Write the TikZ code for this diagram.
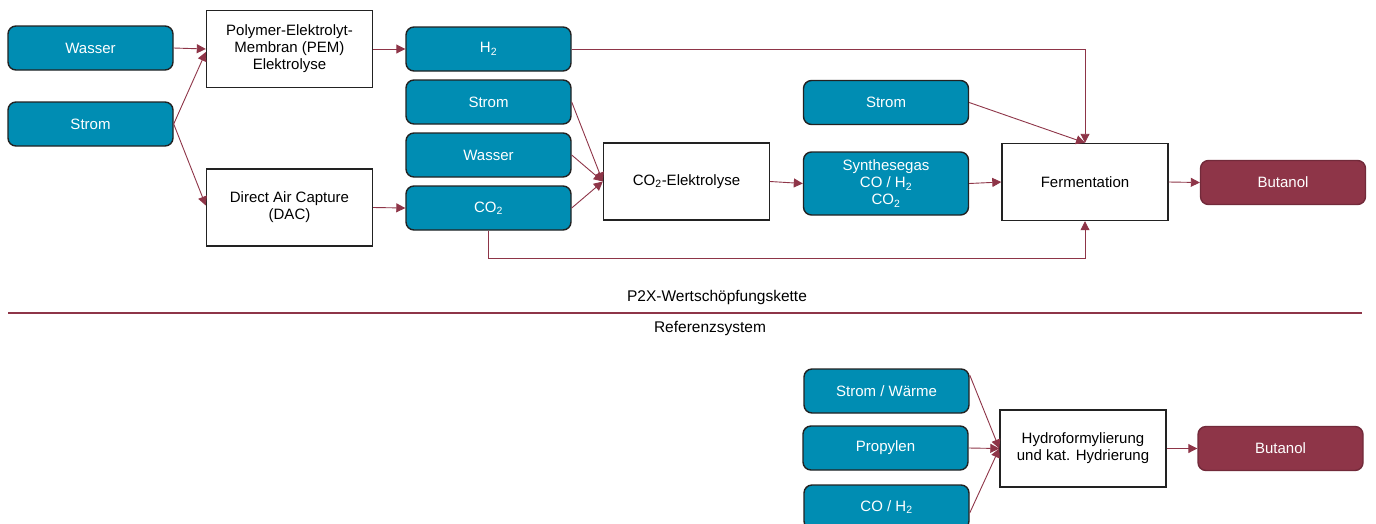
\documentclass[tikz,border=0pt]{standalone}
\usepackage{fontspec}
\setmainfont{Liberation Sans}
\usetikzlibrary{arrows.meta}
\definecolor{teal1}{RGB}{0,141,179}
\definecolor{maroon1}{RGB}{142,53,72}
\definecolor{edge1}{RGB}{34,34,34}
\tikzset{
  inbox/.style={draw=edge1, line width=1.4pt, fill=teal1, rounded corners=8pt, text=white,
    minimum width=165pt, minimum height=44pt, align=center, inner sep=1pt, font=\fontsize{15}{17}\selectfont},
  outbox/.style={inbox, fill=maroon1, draw=maroon1!80!black},
  procbox/.style={draw=edge1, line width=1.4pt, fill=white, text=black,
    minimum width=166pt, minimum height=77pt, align=center, inner sep=1pt, font=\fontsize{15}{17}\selectfont},
  conn/.style={draw=maroon1, line width=0.9pt, -{Triangle[length=9pt,width=9pt]}},
  lbl/.style={font=\fontsize{15.5}{17}\selectfont, text=black}
}
\begin{document}
\begin{tikzpicture}[x=1pt,y=-1pt]
\useasboundingbox (0,0) rectangle (1376,523);
% P2X chain
\node[inbox] (wasser1) at (90.5,48) {Wasser};
\node[inbox] (strom1) at (90.5,124) {Strom};
\node[procbox] (pem) at (289.5,49) {Polymer-Elektrolyt-\\Membran (PEM)\\Elektrolyse};
\node[procbox] (dac) at (289.5,207.5) {Direct Air Capture\\(DAC)};
\node[inbox] (h2) at (488.5,49) {H\textsubscript{2}};
\node[inbox] (strom2) at (488.5,102) {Strom};
\node[inbox] (wasser2) at (488.5,155) {Wasser};
\node[inbox] (co2) at (488.5,208) {CO\textsubscript{2}};
\node[procbox] (co2el) at (686.5,181.5) {CO\textsubscript{2}-Elektrolyse};
\node[inbox] (strom3) at (886,102.5) {Strom};
\node[inbox, minimum height=63pt] (syngas) at (886,183.5) {Synthesegas\\CO / H\textsubscript{2}\\CO\textsubscript{2}};
\node[procbox] (ferm) at (1085,182) {Fermentation};
\node[outbox] (but1) at (1283,182.5) {Butanol};

\draw[conn] (wasser1.east) -- (pem.west);
\draw[conn] (strom1.east) -- ([yshift=-3pt]pem.west);
\draw[conn] (strom1.east) -- ([yshift=2pt]dac.west);
\draw[conn] (pem.east) -- (h2.west);
\draw[conn] (dac.east) -- (co2.west);
\draw[conn] (h2.east) -| (ferm.north);
\draw[conn] (strom2.east) -- (co2el.west);
\draw[conn] (wasser2.east) -- (co2el.west);
\draw[conn] (co2.east) -- (co2el.west);
\draw[conn] (co2.south) -- ++(0,28) -| (ferm.south);
\draw[conn] (co2el.east) -- (syngas.west);
\draw[conn] (strom3.east) -- (ferm.north);
\draw[conn] (syngas.east) -- (ferm.west);
\draw[conn] (ferm.east) -- (but1.west);

% separator
\node[lbl] (p2x) at (717,297) {P2X-Wertschöpfungskette};
\coordinate (sepL) at (8,313);
\coordinate (sepR) at (1362,313);
\draw[maroon1, line width=1.2pt] (sepL) -- (sepR);
\node[lbl] (ref) at (710,328) {Referenzsystem};

% reference system
\node[inbox] (sw) at (886.5,391) {Strom / Wärme};
\node[inbox] (prop) at (885.5,448) {Propylen};
\node[inbox] (coh2) at (886.5,507) {CO / H\textsubscript{2}};
\node[procbox] (hydro) at (1083,448.5) {Hydroformylierung\\und kat. Hydrierung};
\node[outbox] (but2) at (1280.5,448.5) {Butanol};

\draw[conn] ([yshift=16pt]sw.east) -- (hydro.west);
\draw[conn] (prop.east) -- (hydro.west);
\draw[conn] ([yshift=-6pt]coh2.east) -- (hydro.west);
\draw[conn] (hydro.east) -- (but2.west);
\end{tikzpicture}
\end{document}
